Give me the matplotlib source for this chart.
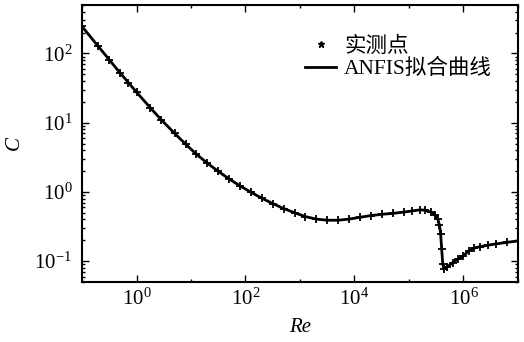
import numpy as np
import matplotlib
matplotlib.use("Agg")
import matplotlib.pyplot as plt
from matplotlib.ticker import FixedLocator, LogLocator, LogFormatterMathtext, NullFormatter

plt.rcParams['font.family'] = ['Liberation Serif', 'Noto Sans CJK SC']
plt.rcParams['mathtext.fontset'] = 'stix'

# measured points: log10(Re) and drag coefficient C
log_re = [-1.0, -0.7, -0.5, -0.3, -0.15, 0.0, 0.25, 0.45, 0.7, 0.9, 1.1, 1.3, 1.5,
          1.7, 1.9, 2.1, 2.3, 2.5, 2.7, 2.9, 3.1, 3.3, 3.5, 3.7, 3.9, 4.1, 4.3,
          4.5, 4.7, 4.9, 5.05, 5.2, 5.3, 5.4, 5.48, 5.53, 5.56, 5.58, 5.6, 5.62,
          5.65, 5.7, 5.8, 5.9, 6.0, 6.1, 6.2, 6.3, 6.45, 6.6, 6.8, 7.0]
c_meas = [245, 126, 81, 52, 38, 27.6, 16.5, 11.1, 7.0, 4.9, 3.5, 2.6, 1.98,
          1.54, 1.22, 0.99, 0.81, 0.68, 0.575, 0.50, 0.44, 0.405, 0.39, 0.39, 0.405, 0.43, 0.455,
          0.475, 0.49, 0.51, 0.53, 0.55, 0.545, 0.51, 0.46, 0.40, 0.33, 0.25, 0.15, 0.09,
          0.078, 0.082, 0.095, 0.107, 0.12, 0.142, 0.155, 0.162, 0.170, 0.178, 0.187, 0.196]
# ANFIS fitted curve (same sampling)
c_fit = c_meas

re = 10.0 ** np.array(log_re)

fig = plt.figure(figsize=(5.24, 3.42), dpi=100)
ax = fig.add_axes([0.1565, 0.1754, 0.832, 0.81])

ax.plot(re, c_fit, color='black', lw=2.0, label='ANFIS拟合曲线', zorder=2)
ax.plot(re, c_meas, linestyle='none', marker='+', ms=6, mew=1.3, color='black', zorder=3)
ax.plot([], [], linestyle='none', marker='*', ms=5, color='black', label='实测点')

ax.set_xscale('log')
ax.set_yscale('log')
ax.set_xlim(1e-1, 1e7)
ax.set_ylim(0.05, 500)

ax.xaxis.set_major_locator(FixedLocator([1, 1e2, 1e4, 1e6]))
ax.xaxis.set_minor_locator(FixedLocator([1e-1, 10, 1e3, 1e5, 1e7]))
ax.xaxis.set_major_formatter(LogFormatterMathtext())
ax.xaxis.set_minor_formatter(NullFormatter())
ax.yaxis.set_major_locator(LogLocator(base=10, numticks=10))
ax.yaxis.set_minor_locator(LogLocator(base=10, subs=np.arange(2, 10), numticks=20))
ax.yaxis.set_major_formatter(LogFormatterMathtext())
ax.yaxis.set_minor_formatter(NullFormatter())

ax.tick_params(which='both', direction='in', top=True, right=True, labelsize=15, width=1.0)
ax.tick_params(which='major', length=5)
ax.tick_params(which='minor', length=2.5)
ax.tick_params(axis='y', which='major', pad=7)
ax.tick_params(axis='x', which='major', pad=5)
for s in ax.spines.values():
    s.set_linewidth(1.5)

ax.set_xlabel('Re', fontsize=15, style='italic', labelpad=6)
ax.set_ylabel('C', fontsize=15, style='italic', labelpad=8)

h, l = ax.get_legend_handles_labels()
order = [1, 0]
ax.legend([h[i] for i in order], [l[i] for i in order], loc='upper right',
          frameon=False, fontsize=15.5, handlelength=1.4, handletextpad=0.4,
          labelspacing=0.1, bbox_to_anchor=(0.985, 0.955))

fig.savefig('out.png', dpi=100)
